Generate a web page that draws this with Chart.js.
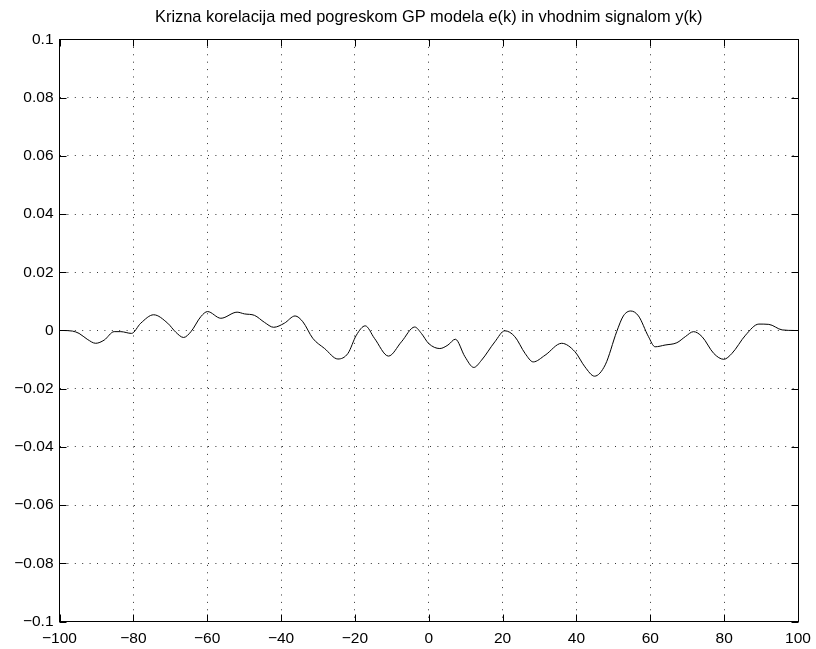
<!DOCTYPE html>
<html>
<head>
<meta charset="utf-8">
<script src="https://cdn.jsdelivr.net/npm/chart.js@4/dist/chart.umd.min.js"></script>
<style>
  html, body { margin: 0; padding: 0; background: #fff; }
  canvas { display: block; }
</style>
</head>
<body>
<canvas id="c" width="816" height="649"></canvas>
<script>
// Cross-correlation between GP model error e(k) and input signal y(k)
const titleText = 'Krizna korelacija med pogreskom GP modela e(k) in vhodnim signalom y(k)';

// lag k
const lags = [
  -99, -96.5, -94.7, -92.5, -90.2, -87.9, -85.2, -83.4, -80.5, -78.0,
  -74.5, -70.7, -68.5, -66.4, -64.4, -61.7, -59.9, -56.3, -51.9, -49.9,
  -47.2, -44.5, -42.0, -39.1, -36.2, -34.1, -31.4, -28.2, -24.6, -21.9,
  -19.6, -17.2, -14.7, -10.9, -7.4, -3.8, -2.0, 0.0, 3.0, 5.2,
  7.2, 9.8, 12.2, 14.3, 17.9, 20.6, 23.3, 26.1, 28.3, 31.5,
  36.0, 39.6, 42.3, 44.9, 47.8, 50.9, 52.7, 54.7, 56.8, 59.5,
  61.3, 64.0, 67.2, 69.5, 71.7, 74.0, 77.2, 79.9, 82.1, 85.8,
  89.4, 92.1, 95.7, 99
];

// cross-correlation value at each lag
const xcorr = [
  0.0000, -0.0002, -0.0010, -0.0030, -0.0044, -0.0033, -0.0004, -0.0004, -0.0010, 0.0025,
  0.0054, 0.0025, -0.0006, -0.0024, -0.0004, 0.0048, 0.0065, 0.0042, 0.0063, 0.0057,
  0.0052, 0.0028, 0.0011, 0.0025, 0.0050, 0.0030, -0.0027, -0.0062, -0.0098, -0.0079,
  -0.0016, 0.0016, -0.0027, -0.0088, -0.0039, 0.0012, -0.0010, -0.0045, -0.0062, -0.0050,
  -0.0030, -0.0090, -0.0127, -0.0102, -0.0039, -0.0001, -0.0021, -0.0079, -0.0108, -0.0085,
  -0.0044, -0.0073, -0.0125, -0.0157, -0.0118, -0.0004, 0.0050, 0.0067, 0.0050, -0.0021,
  -0.0056, -0.0050, -0.0042, -0.0021, -0.0004, -0.0021, -0.0079, -0.0099, -0.0079, -0.0016,
  0.0022, 0.0021, 0.0002, 0.0000
];

const xTicks = [-100, -80, -60, -40, -20, 0, 20, 40, 60, 80, 100];
const xTickLabels = ['\u2212100', '\u221280', '\u221260', '\u221240', '\u221220', '0', '20', '40', '60', '80', '100'];
const yTicks = [-0.1, -0.08, -0.06, -0.04, -0.02, 0, 0.02, 0.04, 0.06, 0.08, 0.1];
const yTickLabels = ['\u22120.1', '\u22120.08', '\u22120.06', '\u22120.04', '\u22120.02', '0', '0.02', '0.04', '0.06', '0.08', '0.1'];

const FONT = '"Liberation Sans", Arial, Helvetica, sans-serif';
const TICK_LEN = 7;

// Solid box around the axes with inward tick marks on all four sides
const frameTicks = {
  id: 'frameTicks',
  afterDraw(chart) {
    const { ctx, chartArea: a, scales: { x, y } } = chart;
    const l = Math.floor(a.left) + 0.5, r = Math.floor(a.right) + 0.5;
    const t = Math.floor(a.top) + 0.5, b = Math.floor(a.bottom) + 0.5;
    ctx.save();
    ctx.strokeStyle = '#000';
    ctx.lineWidth = 1;
    ctx.beginPath();
    xTicks.forEach(v => {
      const px = Math.round(x.getPixelForValue(v)) + 0.5;
      ctx.moveTo(px, b); ctx.lineTo(px, b - TICK_LEN);
      ctx.moveTo(px, t); ctx.lineTo(px, t + TICK_LEN);
    });
    yTicks.forEach(v => {
      const py = Math.round(y.getPixelForValue(v)) + 0.5;
      ctx.moveTo(l, py); ctx.lineTo(l + TICK_LEN, py);
      ctx.moveTo(r, py); ctx.lineTo(r - TICK_LEN, py);
    });
    ctx.stroke();
    ctx.strokeRect(l, t, r - l, b - t);
    ctx.restore();
  }
};

new Chart(document.getElementById('c'), {
  type: 'line',
  data: {
    datasets: [{
      data: lags.map((k, i) => ({ x: k, y: xcorr[i] })),
      borderColor: '#000',
      borderWidth: 1,
      pointRadius: 0,
      fill: false,
      cubicInterpolationMode: 'monotone'
    }]
  },
  options: {
    responsive: false,
    devicePixelRatio: 1,
    animation: false,
    layout: { padding: { left: 0, right: 18, top: 0, bottom: 0 } },
    plugins: {
      legend: { display: false },
      tooltip: { enabled: false },
      title: {
        display: true,
        fullSize: false,
        text: titleText,
        color: '#000',
        font: { family: FONT, size: 16.4, weight: 'normal' },
        padding: { top: 7.5, bottom: 12.3 }
      }
    },
    scales: {
      x: {
        type: 'linear',
        min: -100,
        max: 100,
        afterBuildTicks: s => { s.ticks = xTicks.map(v => ({ value: v })); },
        afterFit: s => { s.height = 27.5; s.paddingLeft = 0; s.paddingRight = 0; },
        ticks: {
          autoSkip: false,
          maxRotation: 0,
          padding: 8,
          color: '#000',
          font: { family: FONT, size: 15.5 },
          callback: (v, i) => xTickLabels[i]
        },
        grid: { color: '#333', lineWidth: 1, drawTicks: false, tickLength: 0 },
        border: { display: false, dash: [1, 6.4] }
      },
      y: {
        type: 'linear',
        min: -0.1,
        max: 0.1,
        afterBuildTicks: s => { s.ticks = yTicks.map(v => ({ value: v })); },
        afterFit: s => { s.width = 59.5; s.paddingTop = 0; s.paddingBottom = 0; },
        ticks: {
          autoSkip: false,
          padding: 6,
          color: '#000',
          font: { family: FONT, size: 15.5 },
          callback: (v, i) => yTickLabels[i]
        },
        grid: { color: '#333', lineWidth: 1, drawTicks: false, tickLength: 0 },
        border: { display: false, dash: [1, 6.4] }
      }
    }
  },
  plugins: [frameTicks]
});
</script>
</body>
</html>
